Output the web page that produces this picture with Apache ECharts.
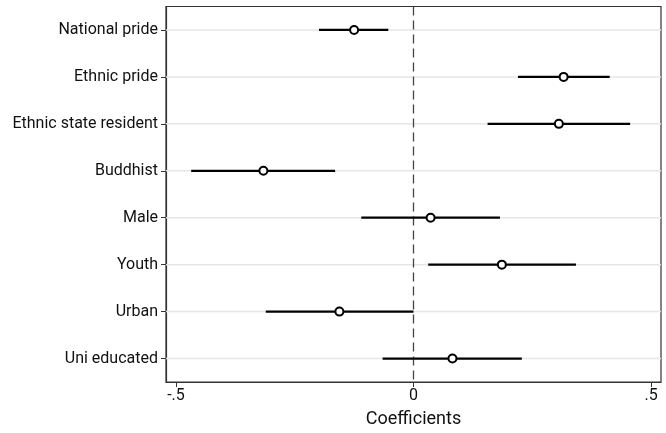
<!DOCTYPE html>
<html>
<head>
<meta charset="utf-8">
<script src="https://cdn.jsdelivr.net/npm/echarts@6/dist/echarts.min.js"></script>
<style>html,body{margin:0;padding:0;background:#fff;}#c{width:666px;height:433px;}</style>
</head>
<body>
<div id="c"></div>
<script>
const categories = ["National pride", "Ethnic pride", "Ethnic state resident", "Buddhist", "Male", "Youth", "Urban", "Uni educated"];
const estimates = [-0.125, 0.316, 0.306, -0.316, 0.036, 0.186, -0.156, 0.082];
const lowerCI = [-0.199, 0.220, 0.156, -0.468, -0.110, 0.031, -0.311, -0.065];
const upperCI = [-0.053, 0.413, 0.456, -0.165, 0.182, 0.342, 0.000, 0.228];
const xTicks = [-0.5, 0, 0.5];
const xTickLabels = ["-.5", "0", ".5"];

const chart = echarts.init(document.getElementById('c'));
const font = 'Roboto';
chart.setOption({
  animation: false,
  backgroundColor: '#fff',
  textStyle: { fontFamily: font },
  grid: { left: 166, right: 5, top: 6.5, bottom: 51, show: true, borderColor: '#333', borderWidth: 1.2, backgroundColor: '#fff' },
  xAxis: {
    type: 'value', min: -0.521, max: 0.521,
    name: 'Coefficients', nameLocation: 'middle', nameGap: 28,
    nameTextStyle: { fontFamily: font, fontSize: 18, color: '#111' },
    axisLine: { show: true, onZero: false, lineStyle: { color: '#333', width: 1.2 } },
    axisTick: { show: true, length: 5, customValues: xTicks, lineStyle: { color: '#333' } },
    axisLabel: { customValues: xTicks, fontFamily: font, fontSize: 16, color: '#111', margin: 6,
      formatter: function (v) { const i = xTicks.indexOf(v); return i >= 0 ? xTickLabels[i] : ''; } },
    splitLine: { show: false }
  },
  yAxis: {
    type: 'category', data: categories, inverse: true, boundaryGap: true,
    axisLine: { show: true, onZero: false, lineStyle: { color: '#333', width: 1.2 } },
    axisTick: { show: true, alignWithLabel: true, length: 5, lineStyle: { color: '#333' } },
    axisLabel: { fontFamily: font, fontSize: 16, color: '#111', margin: 8 },
    splitLine: { show: false }
  },
  series: [
    {
      type: 'custom', z: 1, silent: true,
      data: categories.map((c, i) => [0, i]),
      renderItem: function (params, api) {
        const cs = params.coordSys;
        const p = api.coord([api.value(0), api.value(1)]);
        return { type: 'line', shape: { x1: cs.x, y1: p[1], x2: cs.x + cs.width, y2: p[1] },
          style: { stroke: '#e6e6e6', lineWidth: 1.5 } };
      },
      encode: { x: 0, y: 1 }
    },
    {
      type: 'custom', z: 3, silent: true,
      data: categories.map((c, i) => [lowerCI[i], upperCI[i], i]),
      renderItem: function (params, api) {
        const a = api.coord([api.value(0), api.value(2)]);
        const b = api.coord([api.value(1), api.value(2)]);
        return { type: 'line', shape: { x1: a[0], y1: a[1], x2: b[0], y2: b[1] },
          style: { stroke: '#000', lineWidth: 2.2 } };
      },
      encode: { x: [0, 1], y: 2 }
    },
    {
      type: 'scatter', z: 4, silent: true,
      data: categories.map((c, i) => [estimates[i], i]),
      symbol: 'circle', symbolSize: 8,
      itemStyle: { color: '#fff', borderColor: '#000', borderWidth: 2, opacity: 1 },
      emphasis: { disabled: true },
      markLine: {
        silent: true, symbol: 'none', label: { show: false }, z: 2,
        lineStyle: { color: '#444', width: 1.3, type: [9, 5], opacity: 1 },
        emphasis: { disabled: true },
        data: [{ xAxis: 0 }]
      }
    }
  ]
});
</script>
</body>
</html>
